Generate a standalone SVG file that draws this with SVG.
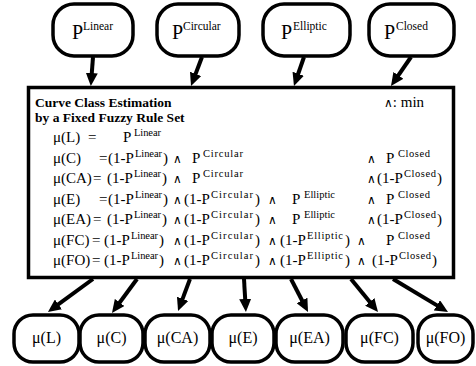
<svg xmlns="http://www.w3.org/2000/svg" width="476" height="366" viewBox="0 0 476 366">
  <style>
    .node { fill: #fff; stroke: #000; stroke-width: 3.5; }
    .box { fill: #fff; stroke: #000; stroke-width: 3.5; }
    .t { font-family: "Liberation Serif", "Times New Roman", serif; font-size: 15px; fill: #000; }
    .s { font-size: 10.5px; }
    .big { font-size: 20px; }
    .sup { font-size: 11.5px; }
    .b { font-weight: bold; font-size: 13.5px; }
    .w { font-family: "DejaVu Serif", serif; font-size: 12px; }
    .lbl { font-size: 16px; text-anchor: middle; }
    .edge { stroke: #000; stroke-width: 4; fill: none; marker-end: url(#arrow); }
  </style>
  <defs>
    <marker id="arrow" markerUnits="userSpaceOnUse" markerWidth="13" markerHeight="12" refX="4" refY="6" orient="auto" viewBox="0 0 13 12">
      <path d="M0,0 L13,6 L0,12 z" fill="#000"/>
    </marker>
  </defs>

  <!-- input probabilities -->
  <g id="p-linear">
    <rect class="node" x="53" y="4" width="80" height="52" rx="21"/>
    <text class="t big" x="72" y="39">P<tspan class="sup" x="83" y="30">Linear</tspan></text>
  </g>
  <g id="p-circular">
    <rect class="node" x="157" y="4" width="82" height="52" rx="21"/>
    <text class="t big" x="172" y="39">P<tspan class="sup" x="183" y="30">Circular</tspan></text>
  </g>
  <g id="p-elliptic">
    <rect class="node" x="263" y="4" width="87" height="52" rx="21"/>
    <text class="t big" x="281" y="39">P<tspan class="sup" x="293" y="30">Elliptic</tspan></text>
  </g>
  <g id="p-closed">
    <rect class="node" x="369" y="4" width="85" height="52" rx="21"/>
    <text class="t big" x="384" y="39">P<tspan class="sup" x="396" y="30">Closed</tspan></text>
  </g>

  <!-- rule set block -->
  <g id="rule-set">
    <rect class="box" x="28.5" y="87.5" width="425" height="190"/>
    <text class="t b" x="35" y="107">Curve Class Estimation</text>
    <text class="t b" x="35" y="122">by a Fixed Fuzzy Rule Set</text>
    <text class="t" x="384" y="107"><tspan class="w">∧</tspan>: min</text>

    <!-- μ(L) -->
    <text class="t" y="142">
      <tspan x="53">μ(L)</tspan><tspan x="88">=</tspan>
      <tspan x="123">P</tspan><tspan class="s" x="134" y="136" textLength="27">Linear</tspan>
    </text>
    <!-- μ(C) -->
    <text class="t" y="162.5">
      <tspan x="53">μ(C)</tspan><tspan x="99">=</tspan>
      <tspan x="108">(1-P</tspan><tspan class="s" x="135" y="156.5" textLength="27">Linear</tspan><tspan x="163" y="162.5">)</tspan>
      <tspan class="w" x="173">∧</tspan>
      <tspan x="192">P</tspan><tspan class="s" x="203" y="156.5" textLength="40">Circular</tspan>
      <tspan class="w" x="367" y="162.5">∧</tspan>
      <tspan x="386">P</tspan><tspan class="s" x="398" y="156.5" textLength="32">Closed</tspan>
    </text>
    <!-- μ(CA) -->
    <text class="t" y="183">
      <tspan x="53">μ(CA)</tspan><tspan x="93">=</tspan>
      <tspan x="107">(1-P</tspan><tspan class="s" x="134" y="177" textLength="27">Linear</tspan><tspan x="162" y="183">)</tspan>
      <tspan class="w" x="173">∧</tspan>
      <tspan x="192">P</tspan><tspan class="s" x="203" y="177" textLength="40">Circular</tspan>
      <tspan class="w" x="367" y="183">∧</tspan>
      <tspan x="377">(1-P</tspan><tspan class="s" x="404" y="177" textLength="32">Closed</tspan><tspan x="437" y="183">)</tspan>
    </text>
    <!-- μ(E) -->
    <text class="t" y="203.5">
      <tspan x="53">μ(E)</tspan><tspan x="99">=</tspan>
      <tspan x="108">(1-P</tspan><tspan class="s" x="135" y="197.5" textLength="27">Linear</tspan><tspan x="163" y="203.5">)</tspan>
      <tspan class="w" x="173">∧</tspan>
      <tspan x="184">(1-P</tspan><tspan class="s" x="211" y="197.5" textLength="42">Circular</tspan><tspan x="255" y="203.5">)</tspan>
      <tspan class="w" x="268">∧</tspan>
      <tspan x="292">P</tspan><tspan class="s" x="304" y="197.5" textLength="31">Elliptic</tspan>
      <tspan class="w" x="367" y="203.5">∧</tspan>
      <tspan x="386">P</tspan><tspan class="s" x="398" y="197.5" textLength="32">Closed</tspan>
    </text>
    <!-- μ(EA) -->
    <text class="t" y="224">
      <tspan x="53">μ(EA)</tspan><tspan x="93">=</tspan>
      <tspan x="107">(1-P</tspan><tspan class="s" x="134" y="218" textLength="27">Linear</tspan><tspan x="162" y="224">)</tspan>
      <tspan class="w" x="173">∧</tspan>
      <tspan x="184">(1-P</tspan><tspan class="s" x="211" y="218" textLength="42">Circular</tspan><tspan x="255" y="224">)</tspan>
      <tspan class="w" x="268">∧</tspan>
      <tspan x="292">P</tspan><tspan class="s" x="304" y="218" textLength="31">Elliptic</tspan>
      <tspan class="w" x="367" y="224">∧</tspan>
      <tspan x="377">(1-P</tspan><tspan class="s" x="404" y="218" textLength="32">Closed</tspan><tspan x="437" y="224">)</tspan>
    </text>
    <!-- μ(FC) -->
    <text class="t" y="244.5">
      <tspan x="53">μ(FC)</tspan><tspan x="92">=</tspan>
      <tspan x="104">(1-P</tspan><tspan class="s" x="131" y="238.5" textLength="27">Linear</tspan><tspan x="159" y="244.5">)</tspan>
      <tspan class="w" x="173">∧</tspan>
      <tspan x="184">(1-P</tspan><tspan class="s" x="211" y="238.5" textLength="42">Circular</tspan><tspan x="255" y="244.5">)</tspan>
      <tspan class="w" x="268">∧</tspan>
      <tspan x="280">(1-P</tspan><tspan class="s" x="307" y="238.5" textLength="36">Elliptic</tspan><tspan x="345" y="244.5">)</tspan>
      <tspan class="w" x="357">∧</tspan>
      <tspan x="386">P</tspan><tspan class="s" x="398" y="238.5" textLength="32">Closed</tspan>
    </text>
    <!-- μ(FO) -->
    <text class="t" y="265">
      <tspan x="53">μ(FO)</tspan><tspan x="92">=</tspan>
      <tspan x="104">(1-P</tspan><tspan class="s" x="131" y="259" textLength="27">Linear</tspan><tspan x="159" y="265">)</tspan>
      <tspan class="w" x="173">∧</tspan>
      <tspan x="184">(1-P</tspan><tspan class="s" x="211" y="259" textLength="42">Circular</tspan><tspan x="255" y="265">)</tspan>
      <tspan class="w" x="268">∧</tspan>
      <tspan x="280">(1-P</tspan><tspan class="s" x="307" y="259" textLength="36">Elliptic</tspan><tspan x="345" y="265">)</tspan>
      <tspan class="w" x="357">∧</tspan>
      <tspan x="372">(1-P</tspan><tspan class="s" x="399" y="259" textLength="32">Closed</tspan><tspan x="432" y="265">)</tspan>
    </text>
  </g>

  <!-- class memberships -->
  <g id="mu-l">
    <rect class="node" x="14" y="315" width="65" height="47" rx="19"/>
    <text class="t lbl" x="46.5" y="343">μ(L)</text>
  </g>
  <g id="mu-c">
    <rect class="node" x="80" y="315" width="63" height="47" rx="19"/>
    <text class="t lbl" x="111.5" y="343">μ(C)</text>
  </g>
  <g id="mu-ca">
    <rect class="node" x="145" y="315" width="65" height="47" rx="19"/>
    <text class="t lbl" x="177.5" y="343">μ(CA)</text>
  </g>
  <g id="mu-e">
    <rect class="node" x="212" y="315" width="62" height="47" rx="19"/>
    <text class="t lbl" x="243" y="343">μ(E)</text>
  </g>
  <g id="mu-ea">
    <rect class="node" x="276" y="315" width="67" height="47" rx="19"/>
    <text class="t lbl" x="309.5" y="343">μ(EA)</text>
  </g>
  <g id="mu-fc">
    <rect class="node" x="346" y="315" width="67" height="47" rx="19"/>
    <text class="t lbl" x="379.5" y="343">μ(FC)</text>
  </g>
  <g id="mu-fo">
    <rect class="node" x="418" y="315" width="55" height="47" rx="19"/>
    <text class="t lbl" x="445.5" y="343">μ(FO)</text>
  </g>

  <!-- connectors -->
  <g id="connectors">
    <line class="edge" x1="93" y1="57" x2="91.5" y2="77"/>
    <line class="edge" x1="202" y1="57" x2="194.2" y2="77.6"/>
    <line class="edge" x1="304" y1="57" x2="296.9" y2="77.5"/>
    <line class="edge" x1="411" y1="57" x2="396.1" y2="78.6"/>

    <line class="edge" x1="93" y1="279" x2="55.2" y2="306.7"/>
    <line class="edge" x1="137" y1="279" x2="117.3" y2="305.7"/>
    <line class="edge" x1="190" y1="279" x2="181.2" y2="302.6"/>
    <line class="edge" x1="244" y1="279" x2="245.4" y2="303"/>
    <line class="edge" x1="291" y1="279" x2="303.9" y2="304"/>
    <line class="edge" x1="351" y1="279" x2="372.3" y2="305"/>
    <line class="edge" x1="393" y1="279" x2="440.3" y2="307.4"/>
  </g>
</svg>
